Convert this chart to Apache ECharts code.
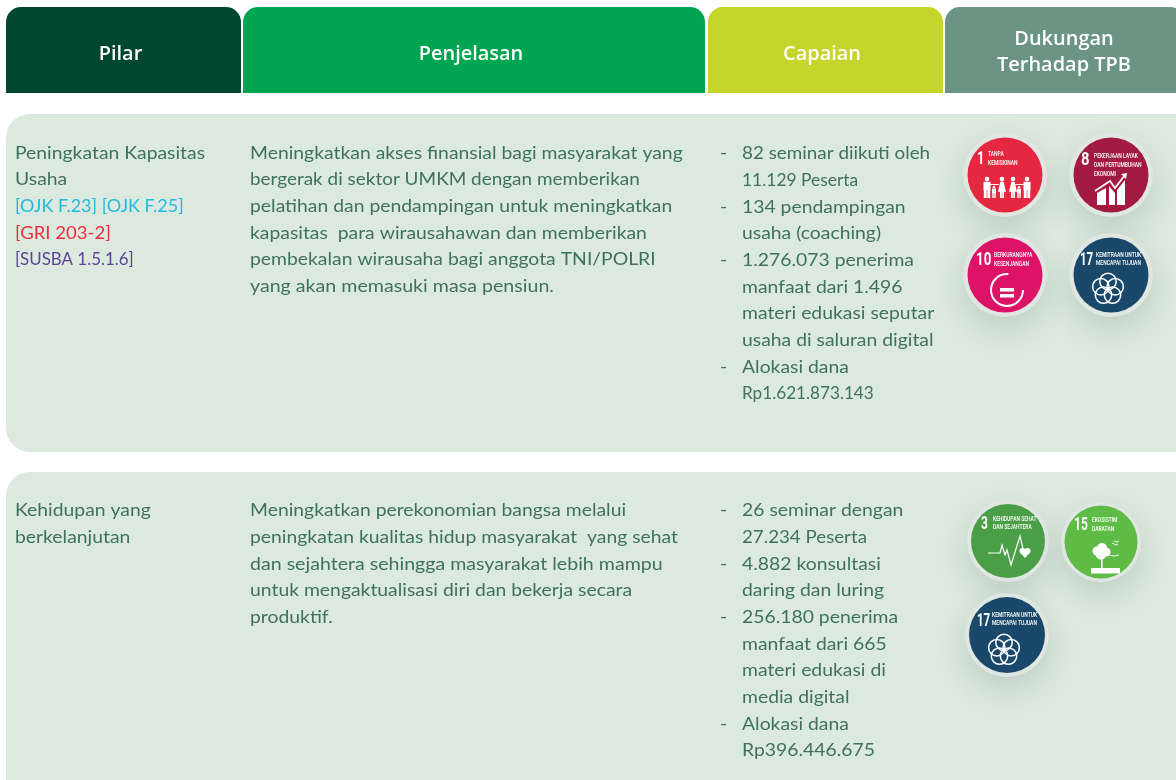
<!DOCTYPE html>
<html><head><meta charset="utf-8">
<style>html,body{margin:0;padding:0;background:#fff}#c{width:1176px;height:780px}</style>
<script src="https://cdn.jsdelivr.net/npm/echarts@6/dist/echarts.min.js"></script>
</head><body><div id="c"></div>
<script>
const headers = ["Pilar","Penjelasan","Capaian","Dukungan\nTerhadap TPB"];
const headerColors = ["#00472f","#00a551","#c4d52b","#6b9484"];
const pilar1 = [["Peningkatan Kapasitas","t"],["Usaha","t"],["[OJK F.23] [OJK F.25]","b"],["[GRI 203-2]","r"],["[SUSBA 1.5.1.6]","p"]];
const pilar2 = [["Kehidupan yang","t"],["berkelanjutan","t"]];
const desc1 = ["Meningkatkan akses finansial bagi masyarakat yang","bergerak di sektor UMKM dengan memberikan","pelatihan dan pendampingan untuk meningkatkan","kapasitas  para wirausahawan dan memberikan","pembekalan wirausaha bagi anggota TNI/POLRI","yang akan memasuki masa pensiun."];
const desc2 = ["Meningkatkan perekonomian bangsa melalui","peningkatan kualitas hidup masyarakat  yang sehat","dan sejahtera sehingga masyarakat lebih mampu","untuk mengaktualisasi diri dan bekerja secara","produktif."];
const cap1 = [["82 seminar diikuti oleh","11.129 Peserta"],["134 pendampingan","usaha (coaching)"],["1.276.073 penerima","manfaat dari 1.496","materi edukasi seputar","usaha di saluran digital"],["Alokasi dana","Rp1.621.873.143"]];
const cap2 = [["26 seminar dengan","27.234 Peserta"],["4.882 konsultasi","daring dan luring"],["256.180 penerima","manfaat dari 665","materi edukasi di","media digital"],["Alokasi dana","Rp396.446.675"]];
const TXT = "#3f7160";
const BODY = 18, BW = 400, BF = "Lato", BSX = 1.075;
const fit = {"[OJK F.23] [OJK F.25]":1.0,"[GRI 203-2]":1.03,"[SUSBA 1.5.1.6]":0.94,"11.129 Peserta":0.967,"Rp1.621.873.143":0.952,"82 seminar diikuti oleh":1.047,"27.234 Peserta":1.04,"bergerak di sektor UMKM dengan memberikan":1.052,"yang akan memasuki masa pensiun.":1.09,"dan sejahtera sehingga masyarakat lebih mampu":1.088};
const tagColors = {t:TXT,b:"#1fbbe0",r:"#ee2d3e",p:"#5b4496"};
const g = [];
const STEP = 26.67;
function text(t,x,y,fill,size,weight,align,sx,font){
  g.push({type:'text',x:x,y:y,z:5,scaleX:sx||fit[t]||BSX,style:{text:t,fill:fill,fontFamily:font||BF,fontSize:size,fontWeight:weight,align:align||'left',verticalAlign:'middle'}});
}
const hx=[[6,235],[243,462],[708,235],[945,240]];
headers.forEach((h,i)=>{
  g.push({type:'rect',shape:{x:hx[i][0],y:7,width:hx[i][1],height:86,r:[15,15,0,0]},style:{fill:headerColors[i]}});
  const cx = i==3?1064:(i==0?120.5:(i==1?471:822));
  const a=h.split("\n");
  a.forEach((l,j)=>text(l,cx,a.length==1?54.5:39.5+j*26,"#fff",19,600,'center',1.05,"Open Sans"));
});
g.push({type:'rect',shape:{x:6,y:114,width:1200,height:338,r:24},style:{fill:"#dce9de"}});
g.push({type:'rect',shape:{x:6,y:472,width:1200,height:340,r:24},style:{fill:"#dce9de"}});
function column(lines,y0){lines.forEach((l,i)=>text(l[0],15,y0+i*STEP,tagColors[l[1]],BODY,BW));}
column(pilar1,153);column(pilar2,510.5);
desc1.forEach((l,i)=>text(l,250,153+i*STEP,TXT,BODY,BW));
desc2.forEach((l,i)=>text(l,250,510.5+i*STEP,TXT,BODY,BW));
function bullets(c,y0){let n=0;c.forEach(b=>b.forEach((l,j)=>{ if(j==0)text("-",720,y0+n*STEP,TXT,BODY,BW); text(l,742,y0+n*STEP,TXT,BODY,BW); n++;}));}
bullets(cap1,153.5);bullets(cap2,510.5);

const W="#fff";
function badge(cx,cy,r,rO,color,num,numX,numY,numScale,labels,lx,ly,lstep,draw){
  g.push({type:'circle',z:2,shape:{cx:cx,cy:cy,r:rO},style:{fill:"#e0e6e2",shadowBlur:30,shadowColor:"rgba(40,70,55,0.16)",shadowOffsetY:12,shadowOffsetX:0}});
  g.push({type:'circle',z:3,shape:{cx:cx,cy:cy,r:r},style:{fill:color}});
  g.push({type:'text',z:5,x:cx+numX,y:cy+numY,scaleX:numScale,style:{text:num,fill:W,fontFamily:"Roboto",fontWeight:700,fontSize:18.5,verticalAlign:'middle'}});
  labels.forEach((t,i)=>g.push({type:'text',z:5,x:cx+lx,y:cy+ly+i*lstep,scaleX:0.62,style:{text:t,fill:W,fontFamily:"Roboto",fontWeight:500,fontSize:8,verticalAlign:'middle'}}));
  draw(cx,cy);
}
function c(cx,cy,r){g.push({type:'circle',z:4,shape:{cx,cy,r},style:{fill:W}});}
function ro(cx,cy,r,w){g.push({type:'circle',z:4,shape:{cx,cy,r},style:{fill:'none',stroke:W,lineWidth:w}});}
function rc(x,y,w,h){g.push({type:'rect',z:4,shape:{x,y,width:w,height:h},style:{fill:W}});}
function pl(pts,w){g.push({type:'polyline',z:4,shape:{points:pts},style:{fill:'none',stroke:W,lineWidth:w}});}
function pg(pts){g.push({type:'polygon',z:4,shape:{points:pts},style:{fill:W}});}
function man(x,y0,h,w){c(x,y0+h*0.1,h*0.11);rc(x-w/2,y0+h*0.23,w,h*0.4);rc(x-w/2+0.3,y0+h*0.6,w/2-0.6,h*0.4);rc(x+0.3,y0+h*0.6,w/2-0.6,h*0.4);}
function woman(x,y0,h,w){c(x,y0+h*0.1,h*0.11);pg([[x-w/5,y0+h*0.23],[x+w/5,y0+h*0.23],[x+w/2,y0+h*0.7],[x-w/2,y0+h*0.7]]);rc(x-w/4,y0+h*0.66,1.8,h*0.34);rc(x+w/4-1.8,y0+h*0.66,1.8,h*0.34);}
function flower(x,y){const pts=[[0,-7.6],[7.2,-2.3],[4.5,6.1],[-4.5,6.1],[-7.2,-2.3]];pts.forEach(p=>ro(x+p[0],y+p[1],8.2,1.5));}

badge(1005,175,37.5,42,"#e5283f","1",-28,-16,0.7,["TANPA","KEMISKINAN"],-17,-21,9,(x,y)=>{
  man(x-18,y+2,21,7);man(x+22,y+2,21,7);woman(x-3,y+2,21,8);woman(x+8,y+2,21,8);man(x-11,y+11,12,4);man(x+14,y+11,12,4);rc(x-15,y+9,9,1);rc(x+10,y+9,9,1);
});
badge(1111,175,37.5,42,"#a21942","8",-30,-15,0.8,["PEKERJAAN LAYAK","DAN PERTUMBUHAN","EKONOMI"],-17,-19,9,(x,y)=>{
  pg([[x-14,y+18],[x-5,y+13],[x-5,y+30],[x-14,y+30]]);pg([[x-2,y+11],[x+4,y+18],[x+4,y+30],[x-2,y+30]]);pg([[x+6,y+15],[x+14,y+5],[x+14,y+30],[x+6,y+30]]);
  pl([[x-16,y+16],[x-1,y+6],[x+4,y+13],[x+14,y+0]],1.8);pg([[x+10,y-1],[x+16,y-2],[x+15,y+4]]);
});
badge(1005,275,37.5,42,"#dd1367","10",-29,-15,0.72,["BERKURANGNYA","KESENJANGAN"],-11,-20,8.5,(x,y)=>{
  g.push({type:'arc',z:4,shape:{cx:x+2,cy:y+15,r:16,startAngle:0,endAngle:4.8,clockwise:true},style:{fill:'none',stroke:W,lineWidth:2}});
  rc(x-5,y+13,14,3.5);rc(x-5,y+19,14,3.5);
});
badge(1111,275,37.5,42,"#19486a","17",-31,-15,0.62,["KEMITRAAN UNTUK","MENCAPAI TUJUAN"],-15,-20,8,(x,y)=>flower(x-3,y+14));
badge(1008,541,37,41,"#4a9e45","3",-27,-17,0.65,["KEHIDUPAN SEHAT","DAN SEJAHTERA"],-15,-22,8,(x,y)=>{
  pl([[x-20,y+12],[x-8,y+12],[x-6,y+4],[x-3,y+14],[x-1,y+9],[x+3,y+24],[x+12,y-5],[x+15,y+8]],1.2);
  c(x+14.5,y+10,3);c(x+19.5,y+10,3);pg([[x+12,y+11.5],[x+22,y+11.5],[x+17,y+17]]);
});
badge(1101,542,36.5,40,"#5dbb46","15",-27,-17,0.65,["EKOSISTIM","DARATAN"],-9,-22,8.5,(x,y)=>{
  c(x-4,y+9,4.5);c(x+1,y+6,5);c(x+5,y+10,4.5);c(x,y+12,5.5);rc(x,y+14,1.6,12);rc(x-10,y+26,29,5.5);
  pl([[x+11,y+1],[x+15,y+3],[x+17,y+2]],0.9);pl([[x+13,y-1],[x+16,y],[x+18,y-1]],0.9);pl([[x+8,y+13],[x+13,y+14],[x+18,y+13]],0.9);
});
badge(1007,635,38,42,"#19486a","17",-30,-14,0.62,["KEMITRAAN UNTUK","MENCAPAI TUJUAN"],-15,-20,8,(x,y)=>flower(x-3,y+15));

const chart = echarts.init(document.getElementById('c'),null,{renderer:'canvas',width:1176,height:780});
chart.setOption({animation:false,backgroundColor:'#fff',graphic:{elements:g}});
</script></body></html>
